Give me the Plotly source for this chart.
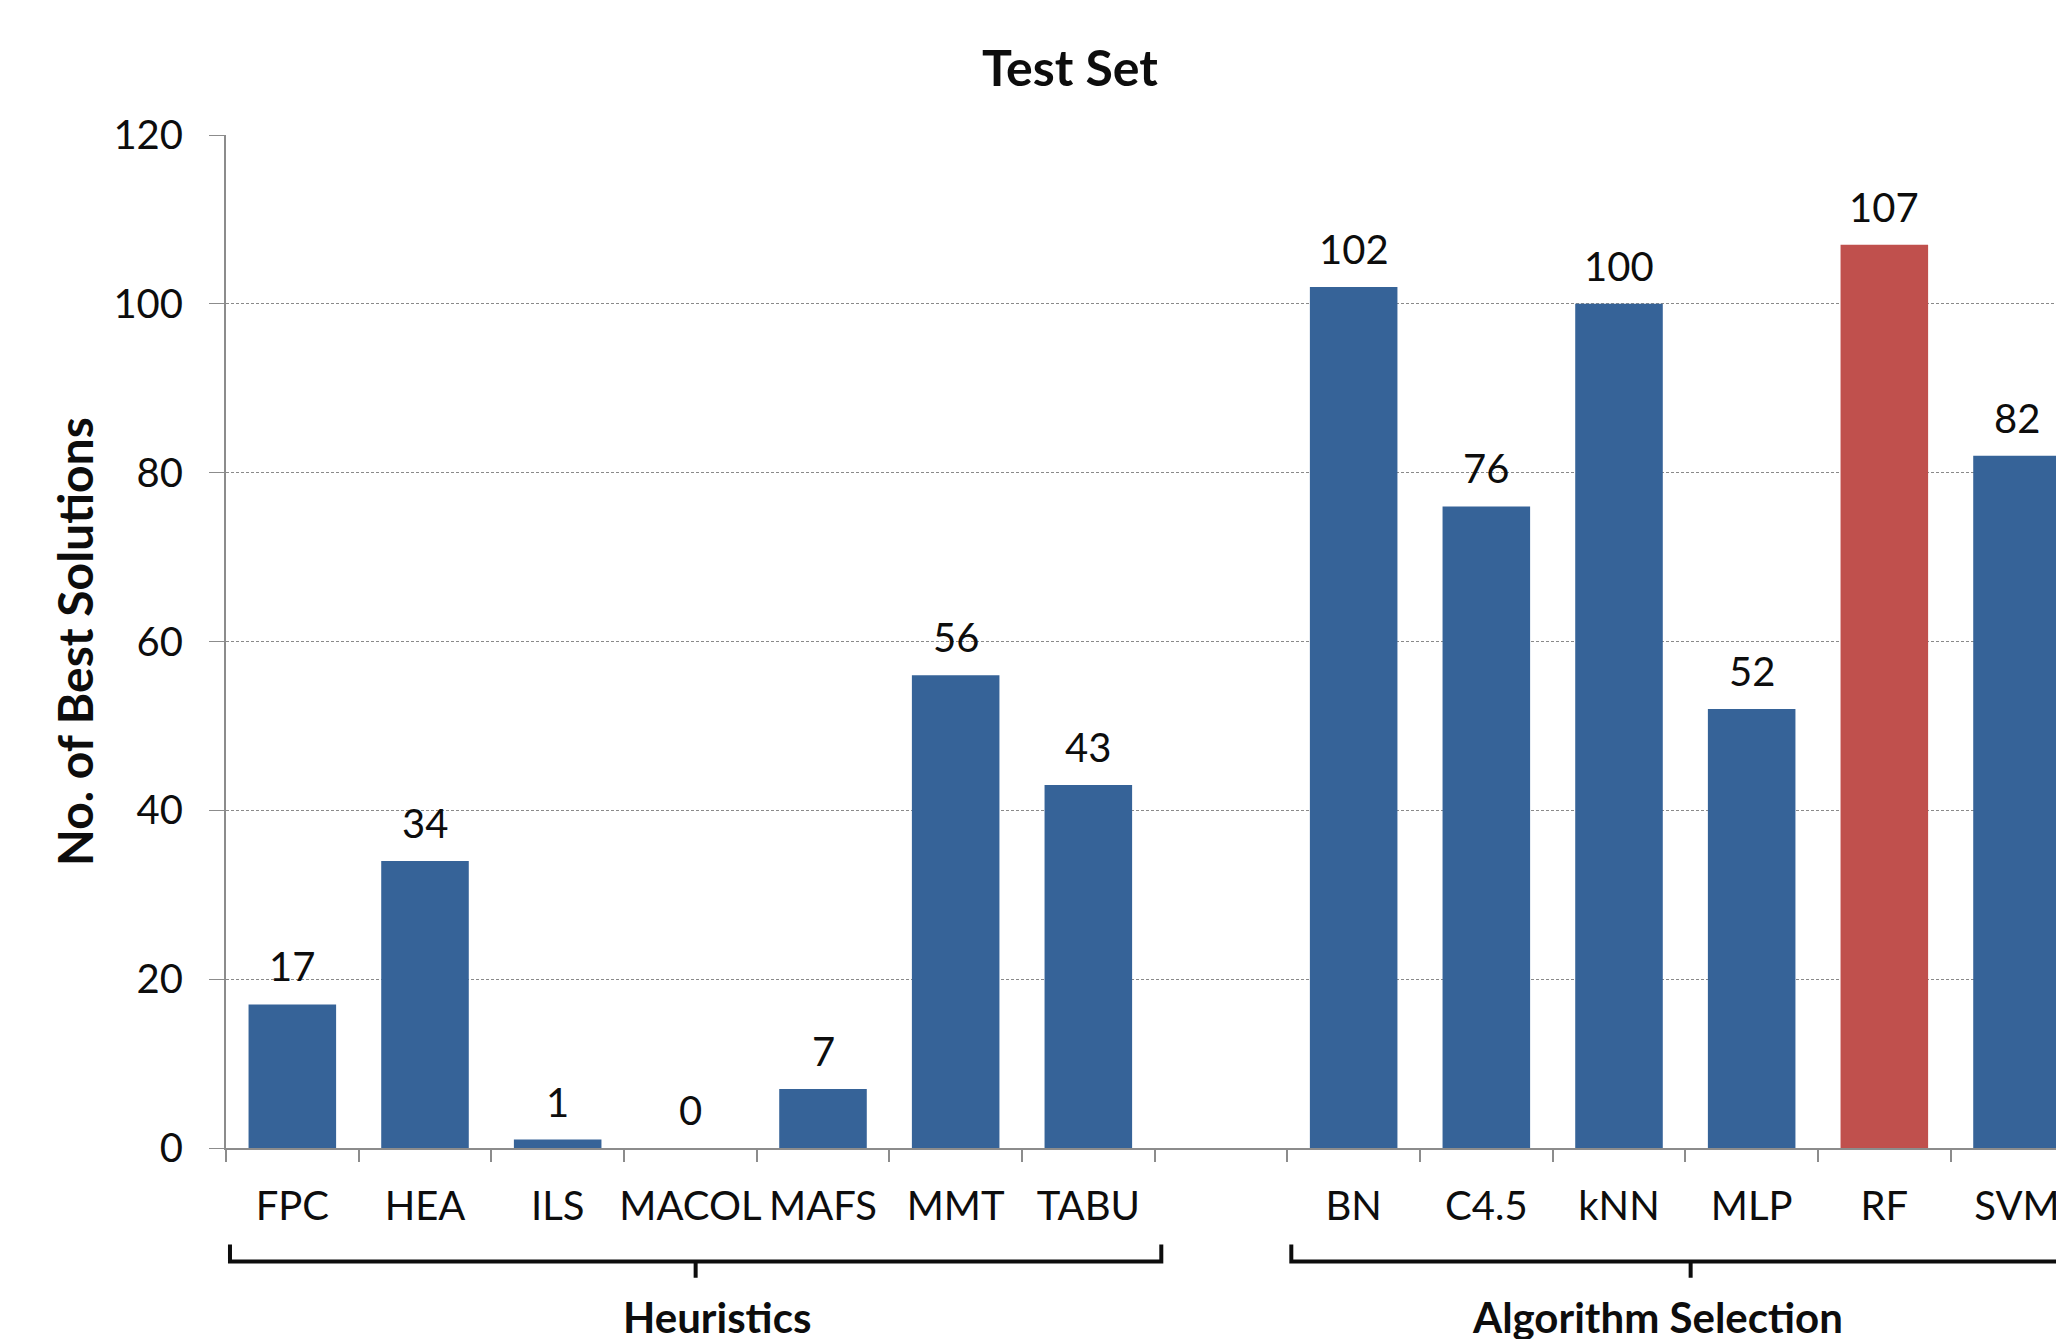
import plotly.graph_objects as go

# ---- data ----
categories = ["FPC", "HEA", "ILS", "MACOL", "MAFS", "MMT", "TABU",
              "BN", "C4.5", "kNN", "MLP", "RF", "SVM"]
values = [17, 34, 1, 0, 7, 56, 43, 102, 76, 100, 52, 107, 82]
groups = ["Heuristics"] * 7 + ["Algorithm Selection"] * 6
group_label_shift = {"Heuristics": 0.16, "Algorithm Selection": -0.25}
highlight = "RF"
y_ticks = [0, 20, 40, 60, 80, 100, 120]

BLUE = "#366398"
RED = "#C0504D"
FONT = "Lato"
TXT = "#0d0d0d"

# positions: leave one empty slot between groups
xpos = []
pos = 0
prev = groups[0]
for g in groups:
    if g != prev:
        pos += 1
        prev = g
    xpos.append(pos)
    pos += 1
n_slots = pos

colors = [RED if c == highlight else BLUE for c in categories]

fig = go.Figure()
fig.add_trace(go.Bar(x=xpos, y=values, marker_color=colors, width=0.66,
                     marker_line_width=0, showlegend=False, hoverinfo="skip"))

# value labels
for x, v in zip(xpos, values):
    fig.add_annotation(x=x, y=v, text=str(v), showarrow=False, xref="x", yref="y",
                       yanchor="bottom", yshift=12,
                       font=dict(family=FONT, size=40, color=TXT))

# invisible trace for boundary ticks axis
fig.add_trace(go.Scatter(x=[xpos[0]], y=[None], xaxis="x2", showlegend=False,
                         hoverinfo="skip"))

x_range = [-0.5, 13.294]
fig.update_layout(
    width=2056, height=1339,
    margin=dict(l=225.5, r=0, t=135, b=190.5, autoexpand=False),
    paper_bgcolor="white", plot_bgcolor="white",
    font=dict(family=FONT, size=40, color=TXT),
    title=dict(text="<b>Test Set</b>", x=1070 / 2056, xanchor="center",
               y=1 - 68 / 1339, yanchor="middle",
               font=dict(family=FONT, size=50, color=TXT)),
    xaxis=dict(range=x_range, tickmode="array", tickvals=xpos, ticktext=categories,
               showgrid=False, zeroline=False, showline=True, linecolor="#8c8c8c",
               linewidth=2, ticks="", ticklabelstandoff=22,
               ticklabeloverflow="allow", automargin=False,
               tickfont=dict(family=FONT, size=40, color=TXT)),
    xaxis2=dict(range=x_range, overlaying="x", side="bottom", anchor="y",
                tickmode="array",
                tickvals=[i - 0.5 for i in range(n_slots + 1)],
                ticks="outside", ticklen=13, tickcolor="#8c8c8c", tickwidth=2,
                showticklabels=False, showgrid=False, zeroline=False, showline=False,
                automargin=False),
    yaxis=dict(range=[0, 120], tickmode="array", tickvals=y_ticks,
               showgrid=True, gridcolor="#8a8a8a", gridwidth=1, griddash="3px,2px",
               zeroline=False, showline=True, linecolor="#8c8c8c", linewidth=2,
               ticks="outside", ticklen=15, tickcolor="#8c8c8c", tickwidth=1,
               ticklabelstandoff=18, automargin=False,
               tickfont=dict(family=FONT, size=40, color=TXT)),
)

# y-axis title
fig.add_annotation(text="<b>No. of Best Solutions</b>", textangle=-90,
                   xref="paper", yref="paper", x=(74 - 225.5) / 1830.5, y=0.5,
                   xanchor="center", yanchor="middle", showarrow=False,
                   font=dict(family=FONT, size=48, color=TXT))

# group braces and labels
y_top, y_mid, y_bot = -0.0952, -0.112, -0.128
seen = []
for g in groups:
    if g not in seen:
        seen.append(g)
for g in seen:
    xs = [x for x, gg in zip(xpos, groups) if gg == g]
    x0 = min(xs) - 0.47
    x1 = max(xs) + 0.55
    xc = (x0 + x1) / 2
    path = (f"M {x0},{y_top} L {x0},{y_mid} L {x1},{y_mid} L {x1},{y_top} "
            f"M {xc},{y_mid} L {xc},{y_bot}")
    fig.add_shape(type="path", path=path, xref="x", yref="paper",
                  line=dict(color=TXT, width=4))
    fig.add_annotation(text=f"<b>{g}</b>", x=xc + group_label_shift[g], y=-0.167,
                       xref="x", yref="paper",
                       showarrow=False, xanchor="center", yanchor="middle",
                       font=dict(family=FONT, size=42, color=TXT))

fig.write_html("out.html")
